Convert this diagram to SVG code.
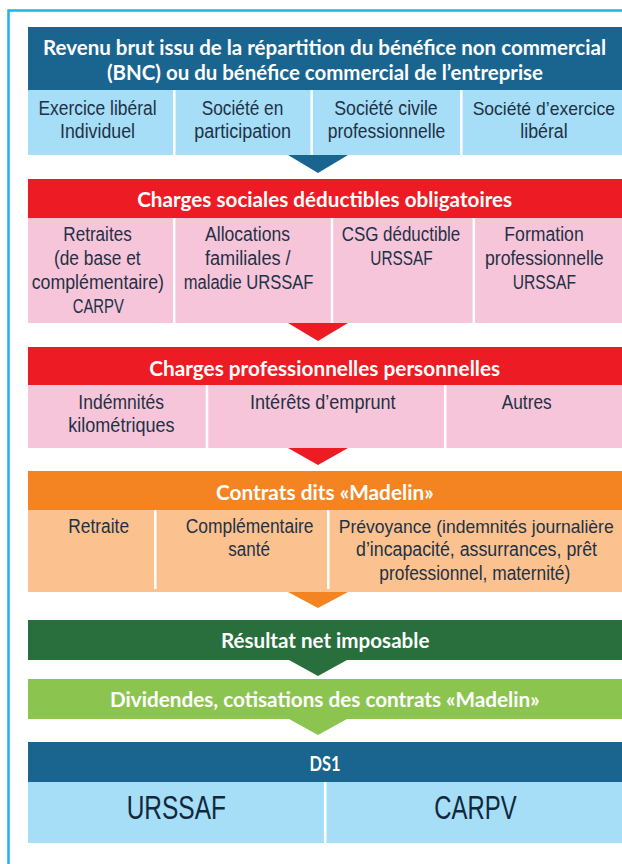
<svg xmlns="http://www.w3.org/2000/svg" width="622" height="864" viewBox="0 0 622 864">
<style>
.hd{fill:#fff;font-family:Lato,'Liberation Sans',sans-serif;font-weight:bold;font-size:20.5px;text-anchor:middle}
.ct{fill:#1d3246;font-family:'Liberation Sans',Arial,sans-serif;font-size:19.5px;text-anchor:middle}
.big{fill:#10293c;font-family:'Liberation Sans',Arial,sans-serif;font-size:33.5px;text-anchor:middle}
.dv{stroke:#fff;stroke-width:2.5}
.dblue{fill:#1a6590}.lblue{fill:#a6ddf7}.red{fill:#ed1c24}.pink{fill:#f7c5da}
.orange{fill:#f38421}.lorange{fill:#fbc18f}.dgreen{fill:#286f3d}.lgreen{fill:#8bc550}
</style>
<rect width="622" height="864" fill="#fff"/>
<rect x="8.5" y="10.5" width="640" height="900" fill="none" stroke="#1fb1ea" stroke-width="2.5"/>

<g id="connectors">
<polygon class="dblue" points="288,155 348,155 318,173"/>
<polygon class="red" points="288,323 348,323 318,341"/>
<polygon class="red" points="288,448 348,448 318,465"/>
<polygon class="orange" points="288,592 348,592 318,608"/>
<polygon class="dgreen" points="289,660 347,660 318,676"/>
<polygon class="lgreen" points="289,719 347,719 318,735"/>
</g>

<g id="revenu-brut">
<rect class="dblue" x="28" y="27" width="594" height="63"/>
<text class="hd" x="324.5" y="55" style="font-size:20.3px" textLength="563" lengthAdjust="spacingAndGlyphs">Revenu brut issu de la répartition du bénéfice non commercial</text>
<text class="hd" x="325" y="80" textLength="436" lengthAdjust="spacingAndGlyphs">(BNC) ou du bénéfice commercial de l’entreprise</text>
<rect class="lblue" x="28" y="90" width="594" height="65"/>
<line class="dv" x1="174.3" y1="90" x2="174.3" y2="155"/>
<line class="dv" x1="311.6" y1="90" x2="311.6" y2="155"/>
<line class="dv" x1="461.3" y1="90" x2="461.3" y2="155"/>
<g id="exercice-liberal">
<text class="ct" x="97.5" y="114.5" textLength="118" lengthAdjust="spacingAndGlyphs">Exercice libéral</text>
<text class="ct" x="97.5" y="137.5" textLength="75" lengthAdjust="spacingAndGlyphs">Individuel</text>
</g>
<g id="societe-participation">
<text class="ct" x="242.5" y="114.5" textLength="81.6" lengthAdjust="spacingAndGlyphs">Société en</text>
<text class="ct" x="242.7" y="137.5" textLength="96.7" lengthAdjust="spacingAndGlyphs">participation</text>
</g>
<g id="societe-civile">
<text class="ct" x="386" y="114.5" textLength="103.4" lengthAdjust="spacingAndGlyphs">Société civile</text>
<text class="ct" x="386.5" y="137.5" textLength="117.6" lengthAdjust="spacingAndGlyphs">professionnelle</text>
</g>
<g id="societe-exercice">
<text class="ct" x="543.8" y="114.5" style="font-size:18.4px" textLength="142.3" lengthAdjust="spacingAndGlyphs">Société d’exercice</text>
<text class="ct" x="544" y="137.5" textLength="47.4" lengthAdjust="spacingAndGlyphs">libéral</text>
</g>
</g>

<g id="charges-sociales">
<rect class="red" x="28" y="179" width="594" height="39"/>
<text class="hd" x="324.7" y="207" textLength="375" lengthAdjust="spacingAndGlyphs">Charges sociales déductibles obligatoires</text>
<rect class="pink" x="28" y="218" width="594" height="105"/>
<line class="dv" x1="174.2" y1="218" x2="174.2" y2="323"/>
<line class="dv" x1="332" y1="218" x2="332" y2="323"/>
<line class="dv" x1="473.8" y1="218" x2="473.8" y2="323"/>
<g id="retraites">
<text class="ct" x="97.5" y="241" textLength="68.4" lengthAdjust="spacingAndGlyphs">Retraites</text>
<text class="ct" x="97.3" y="265" textLength="86.7" lengthAdjust="spacingAndGlyphs">(de base et</text>
<text class="ct" x="97.8" y="289" textLength="132.3" lengthAdjust="spacingAndGlyphs">complémentaire)</text>
<text class="ct" x="98.3" y="313" textLength="51.3" lengthAdjust="spacingAndGlyphs">CARPV</text>
</g>
<g id="allocations">
<text class="ct" x="247.5" y="241" textLength="85" lengthAdjust="spacingAndGlyphs">Allocations</text>
<text class="ct" x="247.8" y="265" textLength="85.7" lengthAdjust="spacingAndGlyphs">familiales /</text>
<text class="ct" x="248.6" y="289" textLength="129.8" lengthAdjust="spacingAndGlyphs">maladie URSSAF</text>
</g>
<g id="csg">
<text class="ct" x="401" y="241" textLength="118.6" lengthAdjust="spacingAndGlyphs">CSG déductible</text>
<text class="ct" x="401.5" y="264.5" textLength="62.4" lengthAdjust="spacingAndGlyphs">URSSAF</text>
</g>
<g id="formation">
<text class="ct" x="544" y="241" textLength="79.4" lengthAdjust="spacingAndGlyphs">Formation</text>
<text class="ct" x="544.3" y="265" textLength="118.7" lengthAdjust="spacingAndGlyphs">professionnelle</text>
<text class="ct" x="544.3" y="288.5" textLength="63.3" lengthAdjust="spacingAndGlyphs">URSSAF</text>
</g>
</g>

<g id="charges-professionnelles">
<rect class="red" x="28" y="347" width="594" height="38"/>
<text class="hd" x="324.7" y="375.5" textLength="351" lengthAdjust="spacingAndGlyphs">Charges professionnelles personnelles</text>
<rect class="pink" x="28" y="385" width="594" height="63"/>
<line class="dv" x1="207" y1="385" x2="207" y2="448"/>
<line class="dv" x1="445.2" y1="385" x2="445.2" y2="448"/>
<g id="indemnites">
<text class="ct" x="121.2" y="408.5" textLength="85.7" lengthAdjust="spacingAndGlyphs">Indémnités</text>
<text class="ct" x="121.4" y="431.7" textLength="106.3" lengthAdjust="spacingAndGlyphs">kilométriques</text>
</g>
<g id="interets">
<text class="ct" x="322.8" y="408.5" textLength="145.6" lengthAdjust="spacingAndGlyphs">Intérêts d’emprunt</text>
</g>
<g id="autres">
<text class="ct" x="526.7" y="408.5" textLength="50" lengthAdjust="spacingAndGlyphs">Autres</text>
</g>
</g>

<g id="contrats-madelin">
<rect class="orange" x="28" y="471" width="594" height="39"/>
<text class="hd" x="324.8" y="499.7" textLength="217.7" lengthAdjust="spacingAndGlyphs">Contrats dits «Madelin»</text>
<rect class="lorange" x="28" y="510" width="594" height="82"/>
<line class="dv" x1="155.3" y1="510" x2="155.3" y2="589"/>
<line class="dv" x1="328.3" y1="510" x2="328.3" y2="589"/>
<g id="retraite">
<text class="ct" x="98.7" y="532.7" textLength="60.7" lengthAdjust="spacingAndGlyphs">Retraite</text>
</g>
<g id="complementaire-sante">
<text class="ct" x="249.6" y="533" textLength="127.8" lengthAdjust="spacingAndGlyphs">Complémentaire</text>
<text class="ct" x="249.2" y="556.3" textLength="41.7" lengthAdjust="spacingAndGlyphs">santé</text>
</g>
<g id="prevoyance">
<text class="ct" x="476.2" y="533" style="font-size:17.9px" textLength="275" lengthAdjust="spacingAndGlyphs">Prévoyance (indemnités journalière</text>
<text class="ct" x="476.5" y="556" textLength="241" lengthAdjust="spacingAndGlyphs">d’incapacité, assurrances, prêt</text>
<text class="ct" x="474.8" y="579.5" textLength="191" lengthAdjust="spacingAndGlyphs">professionnel, maternité)</text>
</g>
</g>

<g id="resultat-net">
<rect class="dgreen" x="28" y="620" width="594" height="40"/>
<text class="hd" x="325.2" y="648.3" textLength="208.4" lengthAdjust="spacingAndGlyphs">Résultat net imposable</text>
</g>

<g id="dividendes">
<rect class="lgreen" x="28" y="679" width="594" height="40"/>
<text class="hd" x="324.8" y="707.3" textLength="429.7" lengthAdjust="spacingAndGlyphs">Dividendes, cotisations des contrats «Madelin»</text>
</g>

<g id="ds1">
<rect class="dblue" x="28" y="742" width="594" height="40"/>
<text class="hd" x="325" y="770.7" textLength="31" lengthAdjust="spacingAndGlyphs">DS1</text>
<rect class="lblue" x="28" y="782" width="594" height="61"/>
<line class="dv" x1="325.2" y1="782" x2="325.2" y2="843"/>
<g id="urssaf">
<text class="big" x="176.3" y="818.7" textLength="99.3" lengthAdjust="spacingAndGlyphs">URSSAF</text>
</g>
<g id="carpv">
<text class="big" x="475.5" y="818.7" textLength="82.3" lengthAdjust="spacingAndGlyphs">CARPV</text>
</g>
</g>
</svg>
